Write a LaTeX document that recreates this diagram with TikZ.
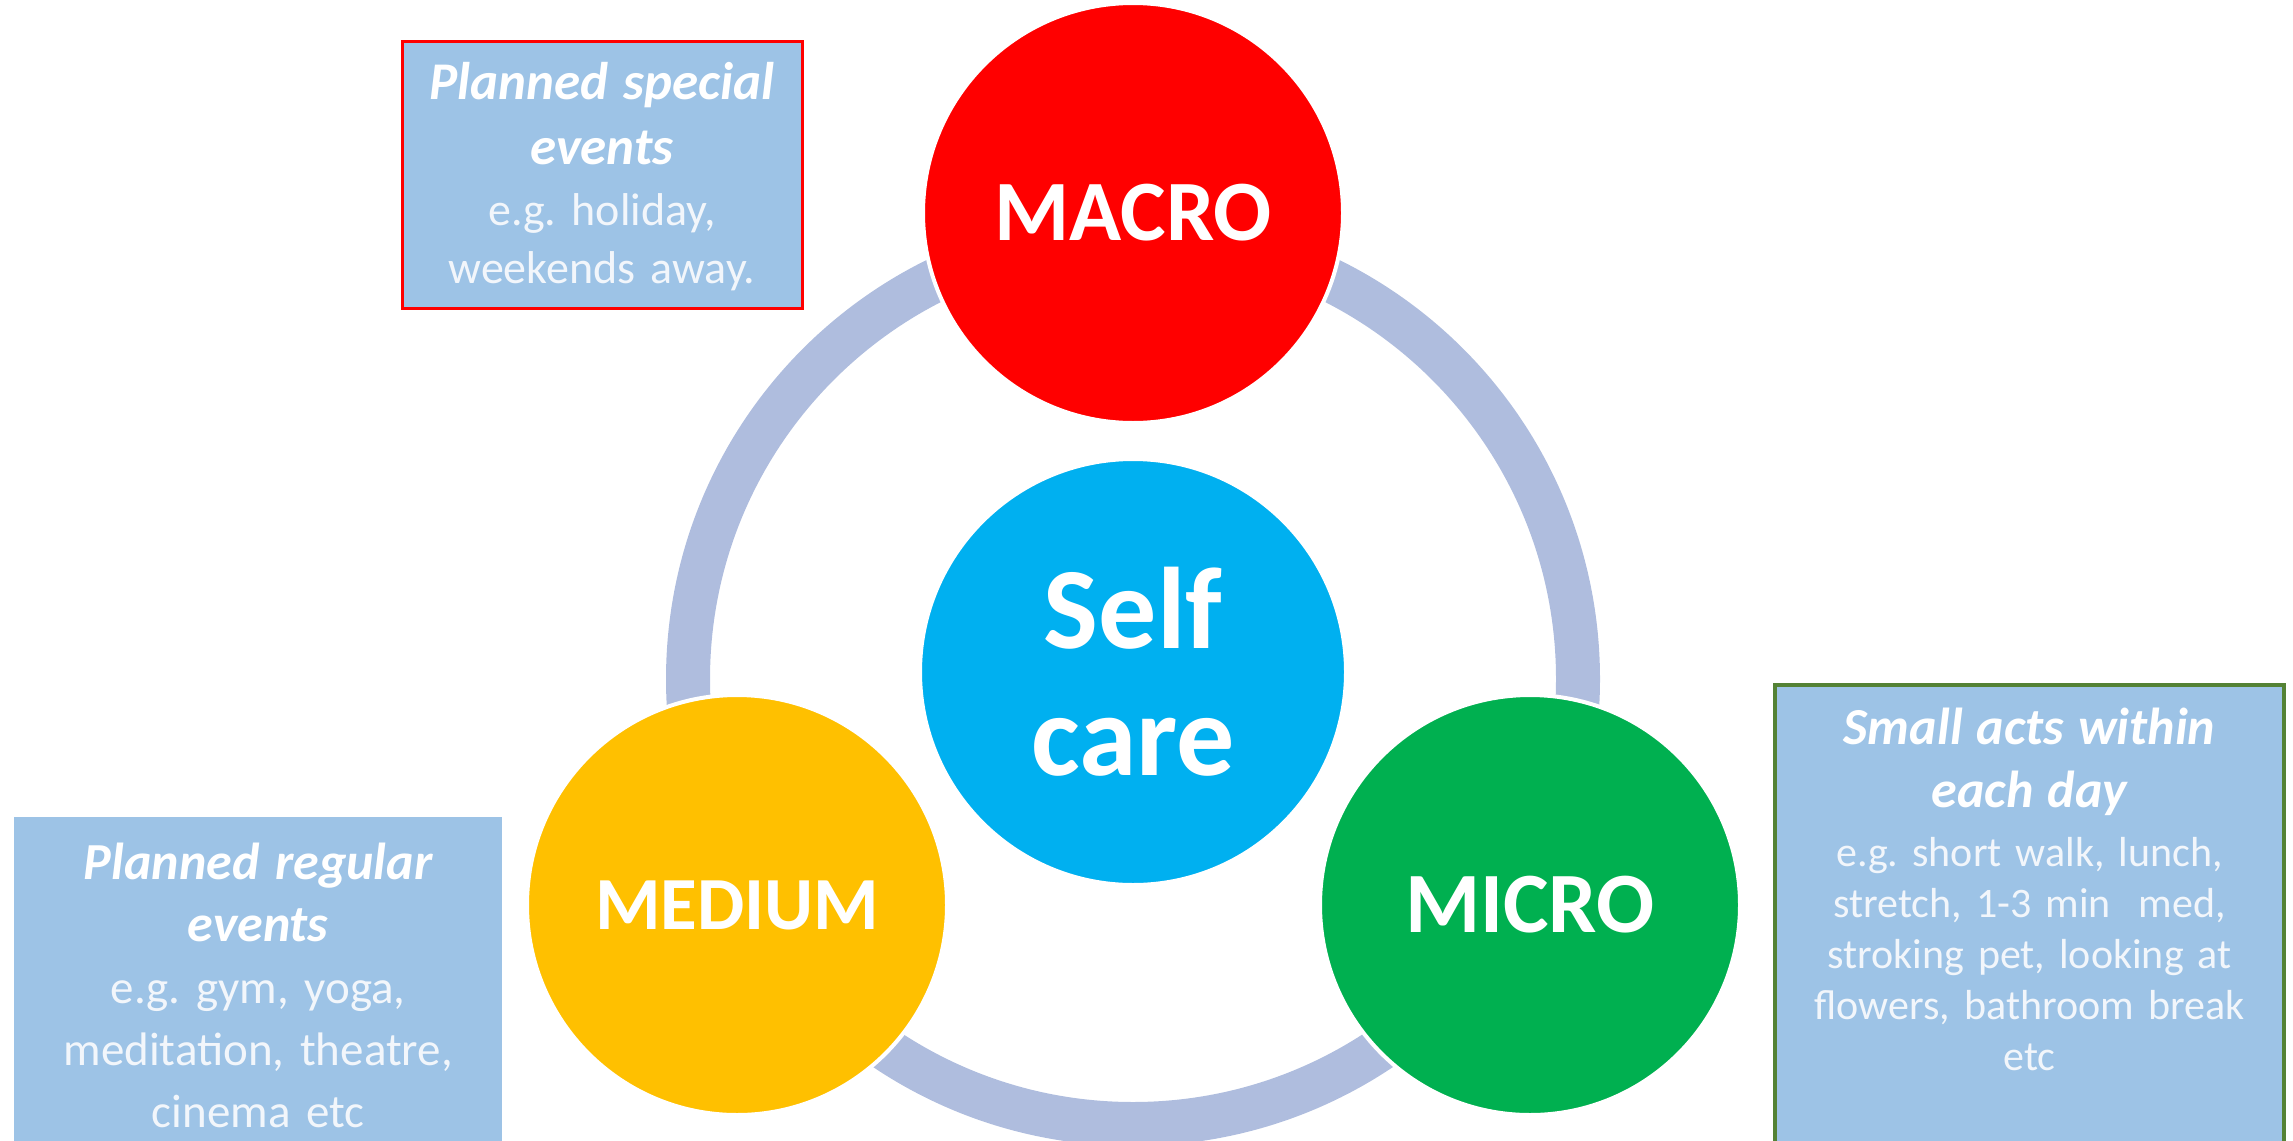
\documentclass[tikz,border=0pt]{standalone}
\usepackage{fontspec}
\setmainfont{Carlito}
\usetikzlibrary{positioning}
\definecolor{ringblue}{HTML}{AFBDDE}
\definecolor{panelblue}{HTML}{9DC3E6}
\definecolor{macrored}{HTML}{FF0000}
\definecolor{selfblue}{HTML}{00B0F0}
\definecolor{mediumyellow}{HTML}{FFC000}
\definecolor{microgreen}{HTML}{00B050}
\definecolor{bordergreen}{HTML}{548235}
\definecolor{softwhite}{HTML}{F2F6FB}
\newcommand{\headtext}[2]{\fontsize{#1}{#2}\selectfont\bfseries\itshape\color{white}}
\frenchspacing
\begin{document}
\begin{tikzpicture}[x=1pt,y=-1pt,
    disc/.style={circle,draw=white,line width=4pt,minimum size=420pt,inner sep=0pt,
        text=white,font=\fontsize{86}{90}\selectfont\bfseries},
    panel/.style={rectangle,fill=panelblue,inner sep=0pt},
    paneltext/.style={text=softwhite,align=center,inner sep=0pt}]
    \useasboundingbox (0,0) rectangle (2293,1140);
    % ring behind the circles
    \draw[ringblue,line width=44pt] (1133,679) circle (445pt);
    \node[disc,fill=selfblue,minimum size=426pt,font=\fontsize{116}{127}\selectfont\bfseries,align=center]
        (self) at (1133,672) {Self\\care};
    \node[disc,fill=macrored] (macro) at (1133,213) {MACRO};
    \node[disc,fill=mediumyellow,font=\fontsize{75}{80}\selectfont\bfseries] (medium) at (737,905) {MEDIUM};
    \node[disc,fill=microgreen] (micro) at (1530,905) {MICRO};
    % text boxes
    \node[panel,draw=macrored,line width=3pt,minimum width=400pt,minimum height=266pt]
        (macrobox) at (602,175) {};
    \node[paneltext,text width=390pt,font=\fontsize{46}{58}\selectfont] (macrotext) at ([yshift=-2pt]macrobox.center)
        {{\headtext{53}{65}Planned special\\events\par}\vspace{3pt}e.g. holiday,\\weekends away.};
    \node[panel,minimum width=488pt,minimum height=340pt,anchor=north west] (mediumbox) at (14,817) {};
    \node[paneltext,text width=480pt,font=\fontsize{47}{62}\selectfont,below=26pt of mediumbox.north] (mediumtext)
        {{\headtext{52}{62}Planned regular\\events\par}e.g. gym, yoga,\\meditation, theatre,\\cinema etc};
    \node[panel,draw=bordergreen,line width=4pt,minimum width=509pt,minimum height=470pt,anchor=north west]
        (microbox) at (1773,683) {};
    \node[paneltext,text width=495pt,font=\fontsize{42}{51}\selectfont,below=25pt of microbox.north] (microtext)
        {{\headtext{52}{63}Small acts within\\each day\par}\vspace{8pt}e.g. short walk, lunch,\\stretch, 1-3 min\ \ med,\\stroking pet, looking at\\flowers, bathroom break\\etc};
\end{tikzpicture}
\end{document}
